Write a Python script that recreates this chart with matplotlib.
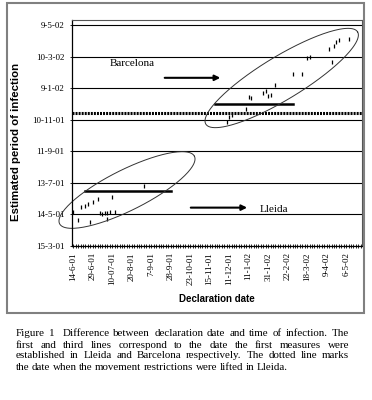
import matplotlib
matplotlib.use("Agg")
import matplotlib.pyplot as plt
import matplotlib.dates as mdates
import numpy as np

# x = declaration (Excel category index), y = estimated date of infection
lleida_cat = [0, 2, 3, 5, 6, 8, 10, 7, 11, 12, 13, 14, 14, 15, 17, 16, 29]
lleida_inf = ["2001-05-18", "2001-05-03", "2001-05-29", "2001-05-31", "2001-06-02",
              "2001-06-07", "2001-06-12", "2001-04-30", "2001-05-17", "2001-05-15",
              "2001-05-16", "2001-05-16", "2001-05-05", "2001-05-19", "2001-05-19",
              "2001-06-17", "2001-07-07"]
barcelona_cat = [63, 64, 65, 71, 72, 73, 78, 79, 80, 81, 83, 90, 94, 96, 97,
                 105, 106, 107, 108, 109, 113]
barcelona_inf = ["2001-11-06", "2001-11-16", "2001-11-20", "2001-12-01", "2001-12-24",
                 "2001-12-22", "2001-12-31", "2002-01-03", "2001-12-25", "2001-12-27",
                 "2002-01-16", "2002-02-05", "2002-02-06", "2002-03-07", "2002-03-10",
                 "2002-03-24", "2002-02-28", "2002-03-31", "2002-04-07", "2002-04-10",
                 "2002-04-13"]

decl_labels = ["14-6-01", "29-6-01", "10-07-01", "20-8-01", "7-9-01", "28-9-01",
               "23-10-01", "15-11-01", "11-12-01", "11-1-02", "31-1-02", "22-2-02",
               "18-3-02", "9-4-02", "6-5-02"]
n_categories = 119
label_step = 8

y_start = "2001-03-15"
y_step_days = 60
y_span_days = 430

lleida_measures = "2001-06-28"      # first solid line
lifted_lleida = "2001-11-23"        # dotted line
barcelona_measures = "2001-12-11"   # third solid line

caption = [
    "Figure 1  Difference between declaration date and time of infection. The",
    "first and third lines correspond to the date the first measures were",
    "established in Lleida and Barcelona respectively. The dotted line marks",
    "the date when the movement restrictions were lifted in Lleida.",
]

W, H = 372, 400
fig = plt.figure(figsize=(W / 100, H / 100), dpi=100)
ax = fig.add_axes([72 / W, 1 - 246 / H, 290 / W, 226 / H])

d = lambda s: mdates.date2num(np.datetime64(s))
y0 = d(y_start)

ax.plot(lleida_cat, [d(s) for s in lleida_inf], ls="none", marker="|",
        ms=3.5, mew=0.9, color="black")
ax.plot(barcelona_cat, [d(s) for s in barcelona_inf], ls="none", marker="|",
        ms=3.5, mew=0.9, color="black")

ax.plot([5, 40], [d(lleida_measures)] * 2, color="black", lw=1.8)
ax.plot([58, 90], [d(barcelona_measures)] * 2, color="black", lw=1.8)
ax.axhline(d(lifted_lleida), color="black", lw=2.2, ls=(0, (0.65, 0.35)))

ax.set_xlim(-0.5, n_categories - 0.5)
ax.set_ylim(y0, y0 + y_span_days)
ax.set_xticks(np.arange(0, len(decl_labels) * label_step, label_step))
ax.set_xticks(np.arange(n_categories), minor=True)
ax.set_xticklabels(decl_labels, rotation=90, family="Liberation Serif", fontsize=6.5)
ax.tick_params(axis="x", which="both", direction="inout", length=3, width=0.6, pad=3)

yt = y0 + np.arange(0, y_span_days, y_step_days)
ax.set_yticks(yt)
ax.yaxis.set_major_formatter(
    plt.FuncFormatter(lambda v, p: "{0.day}-{0.month}-{0:%y}".format(mdates.num2date(v))))
for lab in ax.get_yticklabels():
    lab.set_family("Liberation Serif")
    lab.set_fontsize(6.5)
ax.tick_params(axis="y", direction="inout", length=3, width=0.6, pad=4)
ax.grid(axis="y", color="black", lw=0.8)
ax.set_axisbelow(True)

for s in ["left", "bottom"]:
    ax.spines[s].set_linewidth(0.9)
for s in ["top", "right"]:
    ax.spines[s].set_color("#555555")
    ax.spines[s].set_linewidth(0.8)

ax.set_xlabel("Declaration date", family="Liberation Sans", fontweight="bold",
              fontsize=7, labelpad=6)
ax.set_ylabel("Estimated period of infection", family="Liberation Sans",
              fontweight="bold", fontsize=8.2)
ax.yaxis.set_label_coords(-0.176, 0.46)

# annotation ellipses (drawn in axes pixel space)
aw, ah = 290, 226
for cx, cy, a, b, th in [(209.7, 168, 88.8, 21.5, 31.3), (55, 56, 75.4, 20.3, 26.6)]:
    t = np.linspace(0, 2 * np.pi, 200)
    r = np.radians(th)
    ex = cx + a * np.cos(t) * np.cos(r) - b * np.sin(t) * np.sin(r)
    ey = cy + a * np.cos(t) * np.sin(r) + b * np.sin(t) * np.cos(r)
    ax.plot(ex / aw, ey / ah, transform=ax.transAxes, color="#333333", lw=0.7,
            clip_on=False)

arrow = dict(arrowstyle="-|>", lw=1.5, color="black", mutation_scale=8)
ax.annotate("", xy=(61.5, y0 + 320), xytext=(36.4, y0 + 320), arrowprops=arrow)
ax.annotate("", xy=(72.5, y0 + 73), xytext=(47.1, y0 + 73), arrowprops=arrow)
ax.text(15.1, y0 + 348, "Barcelona", family="Liberation Serif", fontsize=8, va="center")
ax.text(76.6, y0 + 70, "Lleida", family="Liberation Serif", fontsize=8, va="center")

# outer frame
fig.patches.append(plt.Rectangle((7 / W, 1 - 313 / H), 357 / W, 310 / H,
                                 transform=fig.transFigure, fill=False,
                                 edgecolor="#808080", lw=1.5))

# justified caption
renderer = fig.canvas.get_renderer()
x_left, x_right = 16, 349
line_y = [334, 345, 356, 367]
for i, line in enumerate(caption):
    words = line.split(" ")
    txts = [fig.text(0, 0, w, family="Liberation Serif", fontsize=7.9, va="center")
            for w in words]
    widths = [t.get_window_extent(renderer).width for t in txts]
    if i < len(caption) - 1:
        gap = (x_right - x_left - sum(widths)) / (len(words) - 1)
    else:
        gap = 2.4
    x = x_left
    for t, w in zip(txts, widths):
        t.set_position((x / W, 1 - line_y[i] / H))
        x += w + gap

fig.savefig("out.png", dpi=100)
